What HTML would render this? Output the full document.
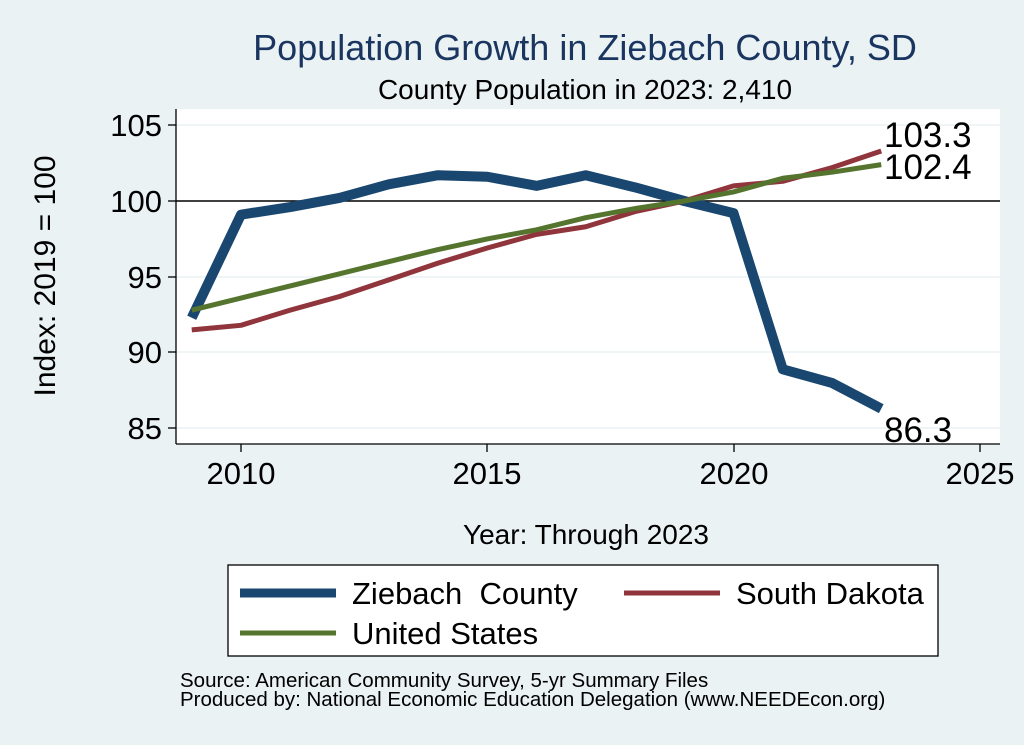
<!DOCTYPE html><html><head><style>body{margin:0;background:#eaf2f3}svg{display:block;font-family:"Liberation Sans",sans-serif}</style></head><body>
<svg id="s" width="1024" height="745" xmlns="http://www.w3.org/2000/svg">
<rect width="1024" height="745" fill="#eaf2f3"/>
<rect x="176" y="109" width="824" height="335" fill="#fff"/>
<g stroke="#eaf2f3" stroke-width="1.5">
<line x1="176" x2="1000" y1="125" y2="125"/><line x1="176" x2="1000" y1="277" y2="277"/><line x1="176" x2="1000" y1="352" y2="352"/><line x1="176" x2="1000" y1="428" y2="428"/></g>
<line x1="176" x2="1000" y1="201" y2="201" stroke="#000" stroke-width="1.5"/>
<g stroke="#000" stroke-width="1.3"><line x1="176" y1="109" x2="176" y2="444"/><line x1="176" y1="444" x2="1000" y2="444"/>
<line x1="168" x2="176" y1="125" y2="125"/><line x1="168" x2="176" y1="201" y2="201"/><line x1="168" x2="176" y1="277" y2="277"/><line x1="168" x2="176" y1="352" y2="352"/><line x1="168" x2="176" y1="428" y2="428"/>
<line x1="241" x2="241" y1="444" y2="452"/><line x1="487" x2="487" y1="444" y2="452"/><line x1="734" x2="734" y1="444" y2="452"/><line x1="980" x2="980" y1="444" y2="452"/></g>
<g font-size="31" text-anchor="end"><text x="162" y="136">105</text><text x="162" y="212">100</text><text x="162" y="288">95</text><text x="162" y="363">90</text><text x="162" y="439">85</text></g>
<g font-size="31" text-anchor="middle"><text x="241" y="484">2010</text><text x="487" y="484">2015</text><text x="734" y="484">2020</text><text x="980" y="484">2025</text></g>
<g id="lines" fill="none" stroke-linejoin="round"></g>
<g font-size="35"><text x="884" y="147">103.3</text><text x="884" y="179">102.4</text><text x="884" y="442">86.3</text></g>
<text x="585" y="60" font-size="36" fill="#1a3560" text-anchor="middle">Population Growth in Ziebach County, SD</text>
<text x="585" y="99" font-size="28" text-anchor="middle">County Population in 2023: 2,410</text>
<text transform="translate(55,276) rotate(-90)" font-size="30" text-anchor="middle">Index: 2019 = 100</text>
<text x="586" y="544" font-size="28" text-anchor="middle">Year: Through 2023</text>
<rect x="228" y="565" width="710" height="91" fill="#fff" stroke="#000" stroke-width="1.3"/>
<line x1="240" x2="336" y1="593" y2="593" stroke="#1a476f" stroke-width="9"/>
<line x1="624" x2="720" y1="593" y2="593" stroke="#90353b" stroke-width="5"/>
<line x1="240" x2="336" y1="633" y2="633" stroke="#55752f" stroke-width="5"/>
<g font-size="31"><text x="352" y="604" xml:space="preserve">Ziebach  County</text><text x="736" y="604">South Dakota</text><text x="352" y="644">United States</text></g>
<g font-size="20.5"><text x="180" y="687">Source: American Community Survey, 5-yr Summary Files</text><text x="180" y="706">Produced by: National Economic Education Delegation (www.NEEDEcon.org)</text></g>
</svg>
<script>
var X=y=>241+(y-2010)*49.25,Y=v=>201-(v-100)*15.16;
var S=[["#90353b",5,[91.5,91.8,92.8,93.7,94.8,95.9,96.9,97.8,98.3,99.3,100,101,101.3,102.2,103.3]],
["#55752f",5,[92.8,93.6,94.4,95.2,96.0,96.8,97.5,98.1,98.9,99.5,100,100.6,101.5,101.9,102.4]],
["#1a476f",10,[92.3,99.1,99.6,100.2,101.1,101.7,101.6,101.0,101.7,100.9,100,99.2,88.9,88.0,86.3]]];
var g=document.getElementById("lines"),h="";
[2,0,1].forEach(i=>{var s=S[i];h+='<polyline stroke="'+s[0]+'" stroke-width="'+s[1]+'" points="'+s[2].map((v,k)=>X(2009+k)+","+Y(v)).join(" ")+'"/>';});
g.innerHTML=h;
</script>
</body></html>
